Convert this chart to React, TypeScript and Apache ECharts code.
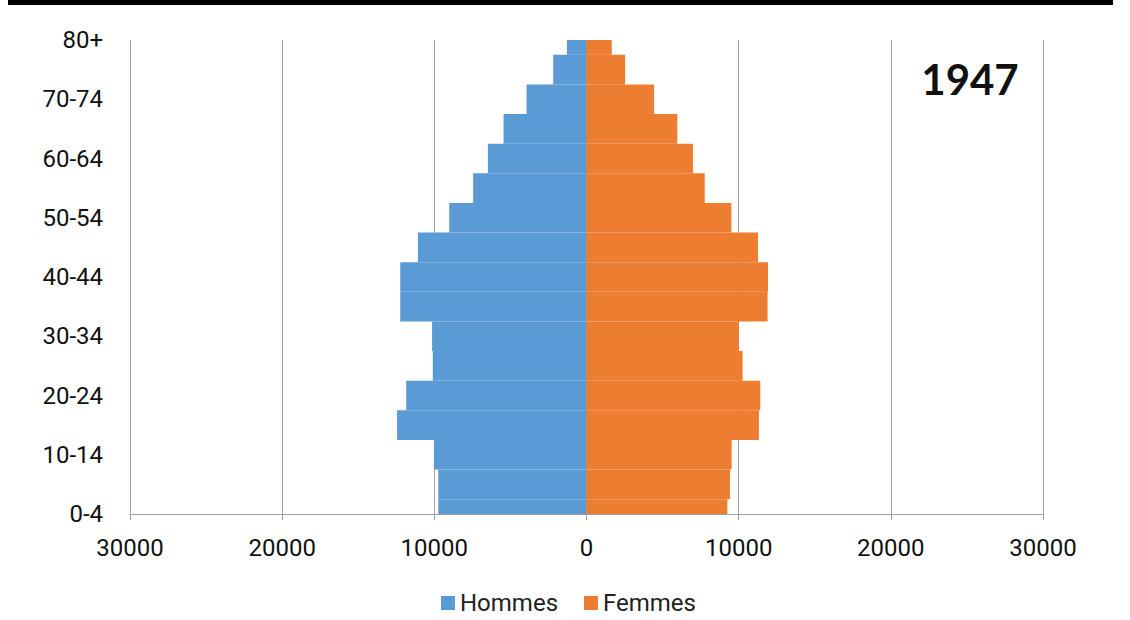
import React, { useEffect, useRef } from "react";
import * as echarts from "echarts";

const ageGroups = [
  "0-4", "5-9", "10-14", "15-19", "20-24", "25-29", "30-34", "35-39",
  "40-44", "45-49", "50-54", "55-59", "60-64", "65-69", "70-74", "75-79", "80+",
];
const hommes = [
  9740, 9740, 10030, 12450, 11850, 10100, 10150, 12240,
  12240, 11080, 9020, 7450, 6480, 5450, 3940, 2190, 1290,
];
const femmes = [
  9260, 9430, 9540, 11330, 11420, 10260, 10020, 11900,
  11930, 11270, 9520, 7770, 7000, 5970, 4440, 2540, 1660,
];
const xTicks = [-30000, -20000, -10000, 0, 10000, 20000, 30000];
const yearLabel = "1947";

const FONT = "Roboto, 'Noto Sans', sans-serif";

function renderBar(params: any, api: any) {
  const val = api.value(0);
  const idx = api.value(1);
  const p1 = api.coord([val, idx]);
  const p0 = api.coord([0, idx]);
  const h = api.size([0, 1])[1];
  const rect = {
    x: Math.min(p0[0], p1[0]),
    y: p1[1] - h / 2,
    width: Math.abs(p1[0] - p0[0]),
    height: h,
  };
  const cs = params.coordSys;
  const clipped = echarts.graphic.clipRectByRect(rect, {
    x: cs.x,
    y: cs.y,
    width: cs.width,
    height: cs.height,
  });
  if (!clipped) return null;
  return { type: "rect", shape: clipped, style: api.style() };
}

export default function App() {
  const ref = useRef<HTMLDivElement>(null);
  useEffect(() => {
    document.body.style.margin = "0";
    if (!ref.current) return;
    const chart = echarts.init(ref.current, undefined, { renderer: "svg" });
    chart.setOption({
      animation: false,
      backgroundColor: "#ffffff",
      textStyle: { fontFamily: FONT },
      graphic: [
        { type: "rect", shape: { x: 8, y: 0, width: 1105, height: 5 }, style: { fill: "#000" }, z: 10 },
        {
          type: "text", x: 970, y: 79, z: 10,
          style: { text: yearLabel, font: "bold 42px Lato, sans-serif", fill: "#111", textAlign: "center", textVerticalAlign: "middle" },
        },
      ],
      grid: { left: 130, right: 87, top: 40, bottom: 106, containLabel: false },
      legend: {
        top: 591,
        left: 441,
        padding: 0,
        itemWidth: 14,
        itemHeight: 14,
        itemGap: 26,
        icon: "rect",
        textStyle: { fontSize: 24, color: "#222", fontFamily: FONT },
        data: ["Hommes", "Femmes"],
      },
      xAxis: {
        type: "value",
        min: xTicks[0],
        max: xTicks[xTicks.length - 1],
        interval: 10000,
        axisLine: { show: true, onZero: false, lineStyle: { color: "#a0a0a0", width: 1 } },
        axisTick: { show: true, length: 6, lineStyle: { color: "#a0a0a0" } },
        splitLine: { show: true, lineStyle: { color: "#a0a0a0", width: 1 } },
        axisLabel: {
          fontSize: 24,
          color: "#111",
          margin: 22,
          fontFamily: FONT,
          formatter: (v: number) => String(Math.abs(v)),
        },
      },
      yAxis: {
        type: "category",
        data: ageGroups,
        boundaryGap: false,
        axisLine: { show: false },
        axisTick: { show: false },
        splitLine: { show: false },
        axisLabel: { interval: 1, fontSize: 24, color: "#111", margin: 27, fontFamily: FONT },
      },
      series: [
        {
          name: "Hommes",
          type: "custom",
          renderItem: renderBar,
          encode: { x: 0, y: 1 },
          data: hommes.map((v, i) => [-v, i]),
          itemStyle: { color: "#5b9bd5" },
        },
        {
          name: "Femmes",
          type: "custom",
          renderItem: renderBar,
          encode: { x: 0, y: 1 },
          data: femmes.map((v, i) => [v, i]),
          itemStyle: { color: "#ed7d31" },
        },
      ],
    });
    return () => chart.dispose();
  }, []);
  return <div ref={ref} style={{ width: 1130, height: 620 }} />;
}
